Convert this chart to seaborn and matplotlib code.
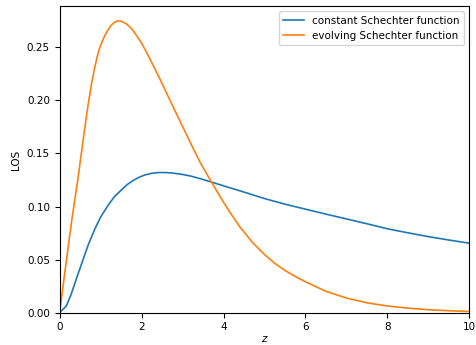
import pandas as pd
import seaborn as sns
import matplotlib
matplotlib.use("Agg")
import matplotlib.pyplot as plt

# values
z_const = [0, 0.16, 0.28, 0.41, 0.5, 0.6, 0.7, 0.85, 1.0, 1.18, 1.34, 1.51, 1.65, 1.79,
           1.95, 2.1, 2.25, 2.41, 2.6, 2.75, 3.0, 3.2, 3.4, 3.71, 4.0, 4.4, 5.0, 5.5,
           6.0, 6.5, 7.0, 7.58, 8.0, 8.5, 9.0, 9.5, 10.0]
los_const = [0, 0.006, 0.017, 0.032, 0.042, 0.053, 0.064, 0.078, 0.090, 0.101, 0.1094,
             0.1157, 0.1207, 0.1245, 0.1278, 0.1300, 0.1313, 0.1320, 0.1320, 0.1316,
             0.1302, 0.1287, 0.1266, 0.1230, 0.1195, 0.1148, 0.1075, 0.1022, 0.0975,
             0.0928, 0.0883, 0.0830, 0.0790, 0.0752, 0.0716, 0.0684, 0.0654]

z_evol = [0, 0.1, 0.2, 0.3, 0.45, 0.55, 0.62, 0.69, 0.772, 0.854, 0.92, 0.977, 1.04,
          1.099, 1.18, 1.26, 1.34, 1.42, 1.52, 1.63, 1.75, 1.87, 2.0, 2.14, 2.3, 2.45,
          2.6, 2.75, 3.0, 3.2, 3.43, 3.71, 4.0, 4.2, 4.4, 4.7, 5.0, 5.25, 5.5, 5.75,
          6.0, 6.5, 7.0, 7.5, 8.0, 8.5, 9.0, 9.5, 10.0]
los_evol = [0, 0.030, 0.059, 0.088, 0.127, 0.156, 0.1756, 0.1945, 0.2142, 0.2306, 0.2418,
            0.2495, 0.2558, 0.2607, 0.2665, 0.2710, 0.2737, 0.2751, 0.2745, 0.2722, 0.268,
            0.2618, 0.2540, 0.2440, 0.2318, 0.2200, 0.2078, 0.1956, 0.1755, 0.1595,
            0.1415, 0.1228, 0.1040, 0.0920, 0.0808, 0.0664, 0.0548, 0.0465, 0.0397,
            0.0340, 0.029, 0.020, 0.0137, 0.0092, 0.0062, 0.0042, 0.0027, 0.0017, 0.0010]

labels = ["constant Schechter function", "evolving Schechter function"]

df = pd.concat([
    pd.DataFrame({"z": z_const, "LOS": los_const, "model": labels[0]}),
    pd.DataFrame({"z": z_evol, "LOS": los_evol, "model": labels[1]}),
])

plt.rcParams["font.size"] = 7.5
fig, ax = plt.subplots(figsize=(4.77, 3.45), dpi=100)
fig.subplots_adjust(left=0.125, right=0.984, top=0.982, bottom=0.094)

sns.lineplot(data=df, x="z", y="LOS", hue="model", estimator=None,
             palette=["#1f77b4", "#ff7f0e"], linewidth=1.2, ax=ax)

ax.set_xlim(0, 10)
ax.set_ylim(0, None)
ax.set_xlabel("$z$", labelpad=1.5)
ax.set_ylabel("LOS")
handles, labs = ax.get_legend_handles_labels()
ax.legend(handles, labs, loc="upper right")

fig.savefig("out.png", dpi=100)
